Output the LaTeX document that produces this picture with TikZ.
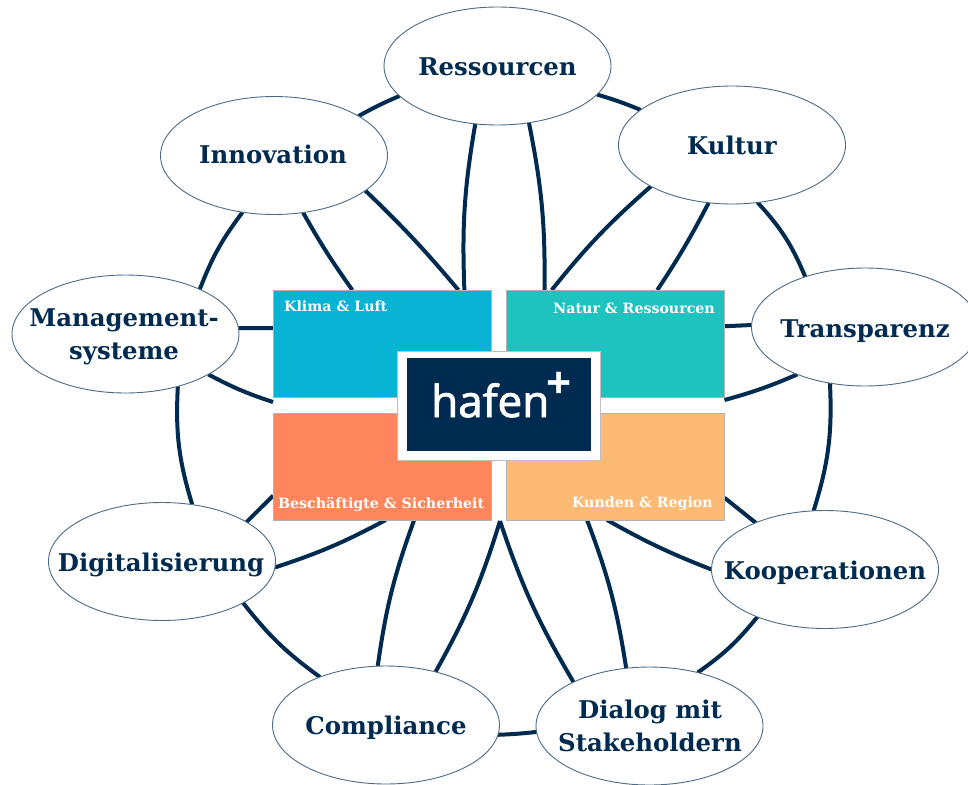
\documentclass[tikz,border=0pt]{standalone}
\usepackage{fontspec}
\setmainfont{DejaVu Serif}
\newfontfamily\logofont[FakeBold=2]{Open Sans}
\newfontfamily\plusfont{Open Sans}
\usetikzlibrary{shapes.geometric,backgrounds}
\definecolor{navy}{HTML}{002B50}
\definecolor{klimac}{HTML}{08B3D3}
\definecolor{naturc}{HTML}{1EC3BF}
\definecolor{beschc}{HTML}{FF865C}
\definecolor{kundenc}{HTML}{FDBA74}
\tikzset{
  topic/.style={ellipse,draw=navy!70!white,line width=0.9pt,fill=white,minimum width=227pt,minimum height=118pt,inner sep=0pt,outer sep=0pt},
  topiclabel/.style={text=navy,font=\fontsize{24.4}{33}\selectfont\bfseries,align=center,inner sep=0pt},
  area/.style={rectangle,draw=black!30,line width=0.8pt,inner sep=0pt,outer sep=0pt,minimum width=218pt,minimum height=107pt},
  arealabel/.style={text=white,font=\fontsize{14.2}{17}\selectfont\bfseries,inner sep=0pt},
  link/.style={draw=navy,line width=4pt},
}
\begin{document}
\begin{tikzpicture}[x=1pt,y=-1pt]
\useasboundingbox (0,0) rectangle (968,784);
% topics
\node[topic] (res) at (497.5,66) {};
\node[topic] (kul) at (732,145) {};
\node[topic] (tra) at (865,327) {};
\node[topic] (koo) at (825,569.5) {};
\node[topic] (dia) at (649.5,726) {};
\node[topic] (com) at (386,725) {};
\node[topic] (dig) at (162,561.5) {};
\node[topic] (man) at (125.5,334) {};
\node[topic] (inn) at (274,155.5) {};
\node[topiclabel,anchor=base] (reslab) at (497.5,75) {Ressourcen};
\node[topiclabel,anchor=base] (kullab) at (732,154) {Kultur};
\node[topiclabel,anchor=base] (tralab) at (865,337) {Transparenz};
\node[topiclabel,anchor=base] (koolab) at (825,579) {Kooperationen};
\node[topiclabel] (dialab) at (650,726) {Dialog mit\\Stakeholdern};
\node[topiclabel,anchor=base] (comlab) at (386,734) {Compliance};
\node[topiclabel,anchor=base] (diglab) at (161,571) {Digitalisierung};
\node[topiclabel] (manlab) at (124,337) {Management-\\systeme};
\node[topiclabel,anchor=base] (innlab) at (273,163) {Innovation};
% areas
\node[area,fill=klimac] (kl) at (382,343.5) {};
\node[area,fill=naturc] (na) at (615.5,343.5) {};
\node[area,fill=beschc] (be) at (382,466.5) {};
\node[area,fill=kundenc] (ku) at (615.5,466.5) {};
\node[arealabel,anchor=base west] (kllab) at (284,311) {Klima \& Luft};
\node[arealabel,anchor=base east] (nalab) at (715,313) {Natur \& Ressourcen};
\node[arealabel,anchor=base west] (belab) at (278,508) {Beschäftigte \& Sicherheit};
\node[arealabel,anchor=base east] (kulab) at (713,507) {Kunden \& Region};
% logo
\node[rectangle,fill=white,draw=black!25,line width=0.6pt,minimum width=203pt,minimum height=109pt,inner sep=0pt] (frame) at (498.5,405.5) {};
\node[rectangle,fill=navy,minimum width=184pt,minimum height=93pt,inner sep=0pt] (logo) at (499,404.5) {};
\node[text=white,font=\logofont\fontsize{44}{50}\selectfont,anchor=base west,inner sep=0pt] (haf) at (431,417) {hafen};
\node[text=white,font=\plusfont\bfseries\fontsize{44}{50}\selectfont,inner sep=0pt] (plus) at (559,385) {+};
\coordinate (tip) at (500,521);
\begin{scope}[on background layer]
\fill[white] (0,0) rectangle (968,784);
% ring
\draw[link] (res.-16.3) to[bend left=3] (kul.159.7);
\draw[link] (kul.-66.2) to[bend left=10] (tra.140.7);
\draw[link] (tra.-122.7) to[bend left=10] (koo.101.7);
\draw[link] (koo.-145.6) to[bend left=8] (dia.48.4);
\draw[link] (dia.183.6) to[bend left=2] (com.-5.1);
\draw[link] (com.144.8) to[bend left=8] (dig.-27.7);
\draw[link] (dig.62.2) to[bend left=10] (man.-45.5);
\draw[link] (man.31.3) to[bend left=8] (inn.-119.3);
\draw[link] (inn.25.7) to[bend left=3] (res.197.9);
% spokes
\draw[link] (res.-111.6) to[bend right=6] (kl.33.8);
\draw[link] (res.-61.1) to[bend left=6] (na.143.2);
\draw[link] (inn.-63) to[bend right=3] (kl.119.3);
\draw[link] (inn.-21.7) to[bend left=3] (kl.35.1);
\draw[link] (kul.-153.4) to[bend right=5] (na.140.8);
\draw[link] (kul.-112.1) to[bend left=3] (na.52.2);
\draw[link] (tra.179) to (na.9.7);
\draw[link] (tra.-145.7) to[bend left=4] ([yshift=-3pt]na.south east);
\draw[link] (koo.146.7) to (ku.-16.2);
\draw[link] (koo.180.5) to[bend left=4] (ku.-99);
\draw[link] (dia.112.5) to[bend right=6] (ku.-118.9);
\draw[link] (dia.150.3) to[bend left=6] (tip);
\draw[link] (com.98.5) to[bend left=6] (be.-59.9);
\draw[link] (com.47.2) to[bend right=6] (tip);
\draw[link] (dig.-3.5) to[bend right=5] (be.-86.8);
\draw[link] (dig.25.7) to (be.195.6);
\draw[link] (man.3) to (kl.172.8);
\draw[link] (man.-26.6) to[bend right=5] ([yshift=-5pt]kl.south west);
\end{scope}
\end{tikzpicture}
\end{document}
